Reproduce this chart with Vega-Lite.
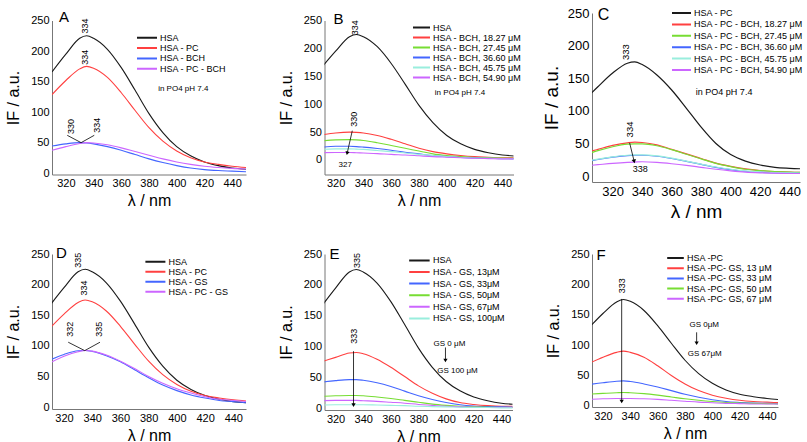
{
"$schema":"https://vega.github.io/schema/vega-lite/v6.json",
"background":"white",
"padding":{"left":5,"top":6,"right":5,"bottom":5},
"config":{
"view":{"stroke":null},
"font":"Liberation Sans",
"axis":{"grid":false,"ticks":false,"domainColor":"#777","domainWidth":1,"labelColor":"#000","titleColor":"#000","titleFontWeight":"normal","labelFont":"Liberation Sans","titleFont":"Liberation Sans","labelPadding":3,"labelOverlap":false},
"axisY":{"labelFontSize":11,"titleFontSize":16,"titlePadding":9},
"axisX":{"labelFontSize":11,"titleFontSize":16,"titlePadding":4,"labelFlush":false},
"legend":{"symbolType":"stroke","symbolStrokeWidth":2,"labelFont":"Liberation Sans","labelFontSize":9,"labelColor":"#000","padding":0,"offset":0,"labelOffset":2,"clipHeight":9,"symbolOffset":0,"labelLimit":300}
},
"datasets":{
"A":[
{"s":"HSA","l":310,"v":166},{"s":"HSA","l":320,"v":195},{"s":"HSA","l":330,"v":221},{"s":"HSA","l":335,"v":225},{"s":"HSA","l":340,"v":221},{"s":"HSA","l":350,"v":203},{"s":"HSA","l":360,"v":173},{"s":"HSA","l":370,"v":136},{"s":"HSA","l":380,"v":98},{"s":"HSA","l":390,"v":67},{"s":"HSA","l":400,"v":44},{"s":"HSA","l":410,"v":29},{"s":"HSA","l":420,"v":19},{"s":"HSA","l":430,"v":13},{"s":"HSA","l":440,"v":9},{"s":"HSA","l":450,"v":7},
{"s":"HSA - PC","l":310,"v":129},{"s":"HSA - PC","l":320,"v":152},{"s":"HSA - PC","l":330,"v":171},{"s":"HSA - PC","l":335,"v":175},{"s":"HSA - PC","l":340,"v":172},{"s":"HSA - PC","l":350,"v":157},{"s":"HSA - PC","l":360,"v":132},{"s":"HSA - PC","l":370,"v":103},{"s":"HSA - PC","l":380,"v":75},{"s":"HSA - PC","l":390,"v":53},{"s":"HSA - PC","l":400,"v":37},{"s":"HSA - PC","l":410,"v":26},{"s":"HSA - PC","l":420,"v":19},{"s":"HSA - PC","l":430,"v":15},{"s":"HSA - PC","l":440,"v":12},{"s":"HSA - PC","l":450,"v":10},
{"s":"HSA - BCH","l":310,"v":45},{"s":"HSA - BCH","l":320,"v":48.5},{"s":"HSA - BCH","l":330,"v":50.5},{"s":"HSA - BCH","l":335,"v":50},{"s":"HSA - BCH","l":340,"v":48.5},{"s":"HSA - BCH","l":350,"v":44},{"s":"HSA - BCH","l":360,"v":38},{"s":"HSA - BCH","l":370,"v":31},{"s":"HSA - BCH","l":380,"v":24},{"s":"HSA - BCH","l":390,"v":18},{"s":"HSA - BCH","l":400,"v":13},{"s":"HSA - BCH","l":410,"v":9},{"s":"HSA - BCH","l":420,"v":6.5},{"s":"HSA - BCH","l":430,"v":5},{"s":"HSA - BCH","l":440,"v":4},{"s":"HSA - BCH","l":450,"v":3},
{"s":"HSA - PC - BCH","l":310,"v":38},{"s":"HSA - PC - BCH","l":320,"v":44},{"s":"HSA - PC - BCH","l":330,"v":49},{"s":"HSA - PC - BCH","l":335,"v":50.5},{"s":"HSA - PC - BCH","l":340,"v":50},{"s":"HSA - PC - BCH","l":350,"v":47},{"s":"HSA - PC - BCH","l":360,"v":42},{"s":"HSA - PC - BCH","l":370,"v":36},{"s":"HSA - PC - BCH","l":380,"v":30},{"s":"HSA - PC - BCH","l":390,"v":24},{"s":"HSA - PC - BCH","l":400,"v":19},{"s":"HSA - PC - BCH","l":410,"v":15},{"s":"HSA - PC - BCH","l":420,"v":12},{"s":"HSA - PC - BCH","l":430,"v":10},{"s":"HSA - PC - BCH","l":440,"v":8.5},{"s":"HSA - PC - BCH","l":450,"v":7.5}
],
"An":[
{"k":"L","l":315,"v":248,"t":"A"},
{"k":"t","l":334,"v":241,"t":"334"},
{"k":"t","l":334,"v":190,"t":"334"},
{"k":"t","l":324,"v":77,"t":"330"},
{"k":"t","l":342.5,"v":79,"t":"334"},
{"k":"r","l":331,"v":50.5,"l2":321,"v2":62.5},
{"k":"r","l":331,"v":50.5,"l2":340.5,"v2":62.5},
{"k":"h","l":386.6,"v":138.6,"t":"in PO4 pH 7.4"}
],
"B":[
{"s":"HSA","l":310,"v":166},{"s":"HSA","l":320,"v":195},{"s":"HSA","l":330,"v":221},{"s":"HSA","l":335,"v":225},{"s":"HSA","l":340,"v":221},{"s":"HSA","l":350,"v":203},{"s":"HSA","l":360,"v":173},{"s":"HSA","l":370,"v":136},{"s":"HSA","l":380,"v":98},{"s":"HSA","l":390,"v":67},{"s":"HSA","l":400,"v":44},{"s":"HSA","l":410,"v":29},{"s":"HSA","l":420,"v":19},{"s":"HSA","l":430,"v":13},{"s":"HSA","l":440,"v":9},{"s":"HSA","l":450,"v":7},
{"s":"HSA - BCH, 18.27 μM","l":310,"v":45},{"s":"HSA - BCH, 18.27 μM","l":320,"v":48.5},{"s":"HSA - BCH, 18.27 μM","l":330,"v":50},{"s":"HSA - BCH, 18.27 μM","l":335,"v":49.5},{"s":"HSA - BCH, 18.27 μM","l":340,"v":48.5},{"s":"HSA - BCH, 18.27 μM","l":350,"v":44},{"s":"HSA - BCH, 18.27 μM","l":360,"v":37},{"s":"HSA - BCH, 18.27 μM","l":370,"v":29},{"s":"HSA - BCH, 18.27 μM","l":380,"v":21},{"s":"HSA - BCH, 18.27 μM","l":390,"v":15},{"s":"HSA - BCH, 18.27 μM","l":400,"v":11},{"s":"HSA - BCH, 18.27 μM","l":410,"v":8},{"s":"HSA - BCH, 18.27 μM","l":420,"v":6},{"s":"HSA - BCH, 18.27 μM","l":430,"v":5},{"s":"HSA - BCH, 18.27 μM","l":440,"v":4},{"s":"HSA - BCH, 18.27 μM","l":450,"v":4},
{"s":"HSA - BCH, 27.45 μM","l":310,"v":34},{"s":"HSA - BCH, 27.45 μM","l":320,"v":36},{"s":"HSA - BCH, 27.45 μM","l":330,"v":36.5},{"s":"HSA - BCH, 27.45 μM","l":335,"v":36},{"s":"HSA - BCH, 27.45 μM","l":340,"v":35},{"s":"HSA - BCH, 27.45 μM","l":350,"v":31},{"s":"HSA - BCH, 27.45 μM","l":360,"v":26},{"s":"HSA - BCH, 27.45 μM","l":370,"v":21},{"s":"HSA - BCH, 27.45 μM","l":380,"v":16},{"s":"HSA - BCH, 27.45 μM","l":390,"v":11},{"s":"HSA - BCH, 27.45 μM","l":400,"v":8},{"s":"HSA - BCH, 27.45 μM","l":410,"v":6},{"s":"HSA - BCH, 27.45 μM","l":420,"v":4.5},{"s":"HSA - BCH, 27.45 μM","l":430,"v":4},{"s":"HSA - BCH, 27.45 μM","l":440,"v":3.5},{"s":"HSA - BCH, 27.45 μM","l":450,"v":3},
{"s":"HSA - BCH, 36.60 μM","l":310,"v":23},{"s":"HSA - BCH, 36.60 μM","l":320,"v":24.5},{"s":"HSA - BCH, 36.60 μM","l":330,"v":24.5},{"s":"HSA - BCH, 36.60 μM","l":335,"v":24},{"s":"HSA - BCH, 36.60 μM","l":340,"v":23},{"s":"HSA - BCH, 36.60 μM","l":350,"v":20.5},{"s":"HSA - BCH, 36.60 μM","l":360,"v":17.5},{"s":"HSA - BCH, 36.60 μM","l":370,"v":14},{"s":"HSA - BCH, 36.60 μM","l":380,"v":11},{"s":"HSA - BCH, 36.60 μM","l":390,"v":8},{"s":"HSA - BCH, 36.60 μM","l":400,"v":6},{"s":"HSA - BCH, 36.60 μM","l":410,"v":4.5},{"s":"HSA - BCH, 36.60 μM","l":420,"v":3.5},{"s":"HSA - BCH, 36.60 μM","l":430,"v":3},{"s":"HSA - BCH, 36.60 μM","l":440,"v":2.5},{"s":"HSA - BCH, 36.60 μM","l":450,"v":2},
{"s":"HSA - BCH, 45.75 μM","l":310,"v":19},{"s":"HSA - BCH, 45.75 μM","l":320,"v":20},{"s":"HSA - BCH, 45.75 μM","l":330,"v":20},{"s":"HSA - BCH, 45.75 μM","l":335,"v":19.5},{"s":"HSA - BCH, 45.75 μM","l":340,"v":19},{"s":"HSA - BCH, 45.75 μM","l":350,"v":17},{"s":"HSA - BCH, 45.75 μM","l":360,"v":15},{"s":"HSA - BCH, 45.75 μM","l":370,"v":12.5},{"s":"HSA - BCH, 45.75 μM","l":380,"v":10},{"s":"HSA - BCH, 45.75 μM","l":390,"v":8},{"s":"HSA - BCH, 45.75 μM","l":400,"v":6},{"s":"HSA - BCH, 45.75 μM","l":410,"v":4.5},{"s":"HSA - BCH, 45.75 μM","l":420,"v":3.5},{"s":"HSA - BCH, 45.75 μM","l":430,"v":3},{"s":"HSA - BCH, 45.75 μM","l":440,"v":2.5},{"s":"HSA - BCH, 45.75 μM","l":450,"v":2},
{"s":"HSA - BCH, 54.90 μM","l":310,"v":13},{"s":"HSA - BCH, 54.90 μM","l":320,"v":13.5},{"s":"HSA - BCH, 54.90 μM","l":330,"v":13.5},{"s":"HSA - BCH, 54.90 μM","l":335,"v":13},{"s":"HSA - BCH, 54.90 μM","l":340,"v":12.5},{"s":"HSA - BCH, 54.90 μM","l":350,"v":11.5},{"s":"HSA - BCH, 54.90 μM","l":360,"v":10},{"s":"HSA - BCH, 54.90 μM","l":370,"v":9},{"s":"HSA - BCH, 54.90 μM","l":380,"v":7.5},{"s":"HSA - BCH, 54.90 μM","l":390,"v":6},{"s":"HSA - BCH, 54.90 μM","l":400,"v":5},{"s":"HSA - BCH, 54.90 μM","l":410,"v":4},{"s":"HSA - BCH, 54.90 μM","l":420,"v":3},{"s":"HSA - BCH, 54.90 μM","l":430,"v":2.5},{"s":"HSA - BCH, 54.90 μM","l":440,"v":2},{"s":"HSA - BCH, 54.90 μM","l":450,"v":2}
],
"Bn":[
{"k":"L","l":318.4,"v":244.6,"t":"B"},
{"k":"t","l":334,"v":237,"t":"334"},
{"k":"t","l":333,"v":73,"t":"330"},
{"k":"r","l":332,"v":52.5,"l2":328.3,"v2":12},
{"k":"p","l":328.3,"v":12},
{"k":"h","l":322.1,"v":-8.4,"t":"327"},
{"k":"h","l":391.4,"v":120,"t":"in PO4 pH 7.4"}
],
"C":[
{"s":"HSA - PC","l":305,"v":126},{"s":"HSA - PC","l":310,"v":137},{"s":"HSA - PC","l":320,"v":158},{"s":"HSA - PC","l":330,"v":173},{"s":"HSA - PC","l":335,"v":175},{"s":"HSA - PC","l":340,"v":171},{"s":"HSA - PC","l":350,"v":155},{"s":"HSA - PC","l":360,"v":132},{"s":"HSA - PC","l":370,"v":104},{"s":"HSA - PC","l":380,"v":75},{"s":"HSA - PC","l":390,"v":50},{"s":"HSA - PC","l":400,"v":33},{"s":"HSA - PC","l":410,"v":23},{"s":"HSA - PC","l":420,"v":17},{"s":"HSA - PC","l":430,"v":13.5},{"s":"HSA - PC","l":440,"v":12},{"s":"HSA - PC","l":450,"v":11},
{"s":"HSA - PC - BCH, 18.27 μM","l":305,"v":38},{"s":"HSA - PC - BCH, 18.27 μM","l":310,"v":41},{"s":"HSA - PC - BCH, 18.27 μM","l":320,"v":47},{"s":"HSA - PC - BCH, 18.27 μM","l":330,"v":51},{"s":"HSA - PC - BCH, 18.27 μM","l":335,"v":52},{"s":"HSA - PC - BCH, 18.27 μM","l":340,"v":51.5},{"s":"HSA - PC - BCH, 18.27 μM","l":350,"v":48},{"s":"HSA - PC - BCH, 18.27 μM","l":360,"v":41},{"s":"HSA - PC - BCH, 18.27 μM","l":370,"v":34},{"s":"HSA - PC - BCH, 18.27 μM","l":380,"v":27},{"s":"HSA - PC - BCH, 18.27 μM","l":390,"v":20},{"s":"HSA - PC - BCH, 18.27 μM","l":400,"v":15},{"s":"HSA - PC - BCH, 18.27 μM","l":410,"v":11},{"s":"HSA - PC - BCH, 18.27 μM","l":420,"v":8.5},{"s":"HSA - PC - BCH, 18.27 μM","l":430,"v":7},{"s":"HSA - PC - BCH, 18.27 μM","l":440,"v":6},{"s":"HSA - PC - BCH, 18.27 μM","l":450,"v":5.5},
{"s":"HSA - PC - BCH, 27.45 μM","l":305,"v":35.5},{"s":"HSA - PC - BCH, 27.45 μM","l":310,"v":39},{"s":"HSA - PC - BCH, 27.45 μM","l":320,"v":45},{"s":"HSA - PC - BCH, 27.45 μM","l":330,"v":49},{"s":"HSA - PC - BCH, 27.45 μM","l":335,"v":49.5},{"s":"HSA - PC - BCH, 27.45 μM","l":340,"v":49.5},{"s":"HSA - PC - BCH, 27.45 μM","l":350,"v":46.5},{"s":"HSA - PC - BCH, 27.45 μM","l":360,"v":40.5},{"s":"HSA - PC - BCH, 27.45 μM","l":370,"v":33.5},{"s":"HSA - PC - BCH, 27.45 μM","l":380,"v":26.5},{"s":"HSA - PC - BCH, 27.45 μM","l":390,"v":19.5},{"s":"HSA - PC - BCH, 27.45 μM","l":400,"v":14.5},{"s":"HSA - PC - BCH, 27.45 μM","l":410,"v":10.5},{"s":"HSA - PC - BCH, 27.45 μM","l":420,"v":8.5},{"s":"HSA - PC - BCH, 27.45 μM","l":430,"v":7},{"s":"HSA - PC - BCH, 27.45 μM","l":440,"v":6},{"s":"HSA - PC - BCH, 27.45 μM","l":450,"v":5.5},
{"s":"HSA - PC - BCH, 36.60 μM","l":305,"v":23.5},{"s":"HSA - PC - BCH, 36.60 μM","l":310,"v":25.5},{"s":"HSA - PC - BCH, 36.60 μM","l":320,"v":29},{"s":"HSA - PC - BCH, 36.60 μM","l":330,"v":31.5},{"s":"HSA - PC - BCH, 36.60 μM","l":335,"v":32},{"s":"HSA - PC - BCH, 36.60 μM","l":340,"v":32},{"s":"HSA - PC - BCH, 36.60 μM","l":350,"v":30.5},{"s":"HSA - PC - BCH, 36.60 μM","l":360,"v":27},{"s":"HSA - PC - BCH, 36.60 μM","l":370,"v":22.5},{"s":"HSA - PC - BCH, 36.60 μM","l":380,"v":18},{"s":"HSA - PC - BCH, 36.60 μM","l":390,"v":13.5},{"s":"HSA - PC - BCH, 36.60 μM","l":400,"v":10},{"s":"HSA - PC - BCH, 36.60 μM","l":410,"v":7.5},{"s":"HSA - PC - BCH, 36.60 μM","l":420,"v":6},{"s":"HSA - PC - BCH, 36.60 μM","l":430,"v":5},{"s":"HSA - PC - BCH, 36.60 μM","l":440,"v":4.5},{"s":"HSA - PC - BCH, 36.60 μM","l":450,"v":4},
{"s":"HSA - PC - BCH, 45.75 μM","l":305,"v":24},{"s":"HSA - PC - BCH, 45.75 μM","l":310,"v":26},{"s":"HSA - PC - BCH, 45.75 μM","l":320,"v":29.5},{"s":"HSA - PC - BCH, 45.75 μM","l":330,"v":32},{"s":"HSA - PC - BCH, 45.75 μM","l":335,"v":32.5},{"s":"HSA - PC - BCH, 45.75 μM","l":340,"v":32.5},{"s":"HSA - PC - BCH, 45.75 μM","l":350,"v":31},{"s":"HSA - PC - BCH, 45.75 μM","l":360,"v":27.5},{"s":"HSA - PC - BCH, 45.75 μM","l":370,"v":23},{"s":"HSA - PC - BCH, 45.75 μM","l":380,"v":18.5},{"s":"HSA - PC - BCH, 45.75 μM","l":390,"v":14},{"s":"HSA - PC - BCH, 45.75 μM","l":400,"v":10.5},{"s":"HSA - PC - BCH, 45.75 μM","l":410,"v":8},{"s":"HSA - PC - BCH, 45.75 μM","l":420,"v":6.5},{"s":"HSA - PC - BCH, 45.75 μM","l":430,"v":5.5},{"s":"HSA - PC - BCH, 45.75 μM","l":440,"v":5},{"s":"HSA - PC - BCH, 45.75 μM","l":450,"v":4.5},
{"s":"HSA - PC - BCH, 54.90 μM","l":305,"v":16.5},{"s":"HSA - PC - BCH, 54.90 μM","l":310,"v":17.5},{"s":"HSA - PC - BCH, 54.90 μM","l":320,"v":19.5},{"s":"HSA - PC - BCH, 54.90 μM","l":330,"v":21},{"s":"HSA - PC - BCH, 54.90 μM","l":335,"v":21.5},{"s":"HSA - PC - BCH, 54.90 μM","l":340,"v":22},{"s":"HSA - PC - BCH, 54.90 μM","l":350,"v":21},{"s":"HSA - PC - BCH, 54.90 μM","l":360,"v":19},{"s":"HSA - PC - BCH, 54.90 μM","l":370,"v":16.5},{"s":"HSA - PC - BCH, 54.90 μM","l":380,"v":13.5},{"s":"HSA - PC - BCH, 54.90 μM","l":390,"v":10.5},{"s":"HSA - PC - BCH, 54.90 μM","l":400,"v":8},{"s":"HSA - PC - BCH, 54.90 μM","l":410,"v":6},{"s":"HSA - PC - BCH, 54.90 μM","l":420,"v":5},{"s":"HSA - PC - BCH, 54.90 μM","l":430,"v":4.5},{"s":"HSA - PC - BCH, 54.90 μM","l":440,"v":4},{"s":"HSA - PC - BCH, 54.90 μM","l":450,"v":4}
],
"Cn":[
{"k":"L","l":309.9,"v":239.7,"t":"C"},
{"k":"t","l":329.2,"v":190,"t":"333"},
{"k":"t","l":331.5,"v":71.5,"t":"334"},
{"k":"r","l":331.5,"v":51,"l2":334.6,"v2":22.5},
{"k":"p","l":334.6,"v":22.5},
{"k":"h","l":333.6,"v":10.3,"t":"338"},
{"k":"h","l":376.4,"v":129.1,"t":"in PO4 pH 7.4"}
],
"D":[
{"s":"HSA","l":310,"v":166},{"s":"HSA","l":320,"v":195},{"s":"HSA","l":330,"v":221},{"s":"HSA","l":335,"v":225},{"s":"HSA","l":340,"v":221},{"s":"HSA","l":350,"v":203},{"s":"HSA","l":360,"v":173},{"s":"HSA","l":370,"v":136},{"s":"HSA","l":380,"v":98},{"s":"HSA","l":390,"v":67},{"s":"HSA","l":400,"v":44},{"s":"HSA","l":410,"v":29},{"s":"HSA","l":420,"v":19},{"s":"HSA","l":430,"v":13},{"s":"HSA","l":440,"v":9},{"s":"HSA","l":450,"v":7},
{"s":"HSA - PC","l":310,"v":129},{"s":"HSA - PC","l":320,"v":152},{"s":"HSA - PC","l":330,"v":171},{"s":"HSA - PC","l":335,"v":175},{"s":"HSA - PC","l":340,"v":172},{"s":"HSA - PC","l":350,"v":157},{"s":"HSA - PC","l":360,"v":132},{"s":"HSA - PC","l":370,"v":103},{"s":"HSA - PC","l":380,"v":75},{"s":"HSA - PC","l":390,"v":53},{"s":"HSA - PC","l":400,"v":37},{"s":"HSA - PC","l":410,"v":26},{"s":"HSA - PC","l":420,"v":19},{"s":"HSA - PC","l":430,"v":15},{"s":"HSA - PC","l":440,"v":12},{"s":"HSA - PC","l":450,"v":10},
{"s":"HSA - GS","l":310,"v":77},{"s":"HSA - GS","l":320,"v":86},{"s":"HSA - GS","l":330,"v":92},{"s":"HSA - GS","l":335,"v":92.5},{"s":"HSA - GS","l":340,"v":91},{"s":"HSA - GS","l":350,"v":84},{"s":"HSA - GS","l":360,"v":74},{"s":"HSA - GS","l":370,"v":61},{"s":"HSA - GS","l":380,"v":48},{"s":"HSA - GS","l":390,"v":36},{"s":"HSA - GS","l":400,"v":27},{"s":"HSA - GS","l":410,"v":20},{"s":"HSA - GS","l":420,"v":15},{"s":"HSA - GS","l":430,"v":11},{"s":"HSA - GS","l":440,"v":9},{"s":"HSA - GS","l":450,"v":7},
{"s":"HSA - PC - GS","l":310,"v":72},{"s":"HSA - PC - GS","l":320,"v":83},{"s":"HSA - PC - GS","l":330,"v":90.5},{"s":"HSA - PC - GS","l":335,"v":92.5},{"s":"HSA - PC - GS","l":340,"v":91.5},{"s":"HSA - PC - GS","l":350,"v":85},{"s":"HSA - PC - GS","l":360,"v":75},{"s":"HSA - PC - GS","l":370,"v":63},{"s":"HSA - PC - GS","l":380,"v":50},{"s":"HSA - PC - GS","l":390,"v":39},{"s":"HSA - PC - GS","l":400,"v":30},{"s":"HSA - PC - GS","l":410,"v":23},{"s":"HSA - PC - GS","l":420,"v":17},{"s":"HSA - PC - GS","l":430,"v":13},{"s":"HSA - PC - GS","l":440,"v":11},{"s":"HSA - PC - GS","l":450,"v":9}
],
"Dn":[
{"k":"L","l":314.4,"v":243,"t":"D"},
{"k":"t","l":330,"v":240,"t":"335"},
{"k":"t","l":334,"v":194.5,"t":"334"},
{"k":"t","l":324.6,"v":127,"t":"332"},
{"k":"t","l":344.8,"v":127,"t":"335"},
{"k":"r","l":334.7,"v":92.3,"l2":323,"v2":106},
{"k":"r","l":334.7,"v":92.3,"l2":345.5,"v2":106}
],
"E":[
{"s":"HSA","l":310,"v":166},{"s":"HSA","l":320,"v":195},{"s":"HSA","l":330,"v":221},{"s":"HSA","l":335,"v":225},{"s":"HSA","l":340,"v":221},{"s":"HSA","l":350,"v":203},{"s":"HSA","l":360,"v":173},{"s":"HSA","l":370,"v":136},{"s":"HSA","l":380,"v":98},{"s":"HSA","l":390,"v":67},{"s":"HSA","l":400,"v":44},{"s":"HSA","l":410,"v":29},{"s":"HSA","l":420,"v":19},{"s":"HSA","l":430,"v":13},{"s":"HSA","l":440,"v":9},{"s":"HSA","l":450,"v":7},
{"s":"HSA - GS, 13μM","l":310,"v":76},{"s":"HSA - GS, 13μM","l":320,"v":83},{"s":"HSA - GS, 13μM","l":330,"v":90},{"s":"HSA - GS, 13μM","l":335,"v":91},{"s":"HSA - GS, 13μM","l":340,"v":89},{"s":"HSA - GS, 13μM","l":350,"v":80},{"s":"HSA - GS, 13μM","l":360,"v":67},{"s":"HSA - GS, 13μM","l":370,"v":52},{"s":"HSA - GS, 13μM","l":380,"v":37},{"s":"HSA - GS, 13μM","l":390,"v":25},{"s":"HSA - GS, 13μM","l":400,"v":16},{"s":"HSA - GS, 13μM","l":410,"v":10},{"s":"HSA - GS, 13μM","l":420,"v":7},{"s":"HSA - GS, 13μM","l":430,"v":5},{"s":"HSA - GS, 13μM","l":440,"v":4},{"s":"HSA - GS, 13μM","l":450,"v":4},
{"s":"HSA - GS, 33μM","l":310,"v":43},{"s":"HSA - GS, 33μM","l":320,"v":45.5},{"s":"HSA - GS, 33μM","l":330,"v":47},{"s":"HSA - GS, 33μM","l":335,"v":47},{"s":"HSA - GS, 33μM","l":340,"v":46},{"s":"HSA - GS, 33μM","l":350,"v":42},{"s":"HSA - GS, 33μM","l":360,"v":36},{"s":"HSA - GS, 33μM","l":370,"v":28.5},{"s":"HSA - GS, 33μM","l":380,"v":21},{"s":"HSA - GS, 33μM","l":390,"v":15},{"s":"HSA - GS, 33μM","l":400,"v":10},{"s":"HSA - GS, 33μM","l":410,"v":6.5},{"s":"HSA - GS, 33μM","l":420,"v":4.5},{"s":"HSA - GS, 33μM","l":430,"v":3.5},{"s":"HSA - GS, 33μM","l":440,"v":3},{"s":"HSA - GS, 33μM","l":450,"v":2.5},
{"s":"HSA - GS, 50μM","l":310,"v":20},{"s":"HSA - GS, 50μM","l":320,"v":21},{"s":"HSA - GS, 50μM","l":330,"v":21.5},{"s":"HSA - GS, 50μM","l":335,"v":21.5},{"s":"HSA - GS, 50μM","l":340,"v":21},{"s":"HSA - GS, 50μM","l":350,"v":19},{"s":"HSA - GS, 50μM","l":360,"v":16.5},{"s":"HSA - GS, 50μM","l":370,"v":13.5},{"s":"HSA - GS, 50μM","l":380,"v":10.5},{"s":"HSA - GS, 50μM","l":390,"v":7.5},{"s":"HSA - GS, 50μM","l":400,"v":5.5},{"s":"HSA - GS, 50μM","l":410,"v":4},{"s":"HSA - GS, 50μM","l":420,"v":3},{"s":"HSA - GS, 50μM","l":430,"v":2.5},{"s":"HSA - GS, 50μM","l":440,"v":2},{"s":"HSA - GS, 50μM","l":450,"v":2},
{"s":"HSA - GS, 67μM","l":310,"v":13},{"s":"HSA - GS, 67μM","l":320,"v":13.5},{"s":"HSA - GS, 67μM","l":330,"v":13.5},{"s":"HSA - GS, 67μM","l":335,"v":13.5},{"s":"HSA - GS, 67μM","l":340,"v":13},{"s":"HSA - GS, 67μM","l":350,"v":12},{"s":"HSA - GS, 67μM","l":360,"v":10.5},{"s":"HSA - GS, 67μM","l":370,"v":9},{"s":"HSA - GS, 67μM","l":380,"v":7},{"s":"HSA - GS, 67μM","l":390,"v":5.5},{"s":"HSA - GS, 67μM","l":400,"v":4},{"s":"HSA - GS, 67μM","l":410,"v":3},{"s":"HSA - GS, 67μM","l":420,"v":2.5},{"s":"HSA - GS, 67μM","l":430,"v":2},{"s":"HSA - GS, 67μM","l":440,"v":2},{"s":"HSA - GS, 67μM","l":450,"v":2},
{"s":"HSA - GS, 100μM","l":310,"v":6},{"s":"HSA - GS, 100μM","l":320,"v":6.5},{"s":"HSA - GS, 100μM","l":330,"v":6.5},{"s":"HSA - GS, 100μM","l":335,"v":6.5},{"s":"HSA - GS, 100μM","l":340,"v":6.5},{"s":"HSA - GS, 100μM","l":350,"v":6},{"s":"HSA - GS, 100μM","l":360,"v":5.5},{"s":"HSA - GS, 100μM","l":370,"v":5},{"s":"HSA - GS, 100μM","l":380,"v":4},{"s":"HSA - GS, 100μM","l":390,"v":3.5},{"s":"HSA - GS, 100μM","l":400,"v":3},{"s":"HSA - GS, 100μM","l":410,"v":2.5},{"s":"HSA - GS, 100μM","l":420,"v":2},{"s":"HSA - GS, 100μM","l":430,"v":2},{"s":"HSA - GS, 100μM","l":440,"v":1.5},{"s":"HSA - GS, 100μM","l":450,"v":1.5}
],
"En":[
{"k":"L","l":315.6,"v":242.4,"t":"E"},
{"k":"t","l":335.3,"v":239.5,"t":"335"},
{"k":"t","l":333,"v":117,"t":"333"},
{"k":"r","l":333,"v":93,"l2":333,"v2":6},
{"k":"p","l":333,"v":6},
{"k":"r","l":399.5,"v":99,"l2":399.5,"v2":78},
{"k":"p","l":399.5,"v":78},
{"k":"h","l":390.9,"v":105,"t":"GS 0 μM"},
{"k":"h","l":393.5,"v":60.6,"t":"GS 100 μM"}
],
"F":[
{"s":"HSA -PC","l":310,"v":129},{"s":"HSA -PC","l":320,"v":152},{"s":"HSA -PC","l":330,"v":171},{"s":"HSA -PC","l":335,"v":175},{"s":"HSA -PC","l":340,"v":172},{"s":"HSA -PC","l":350,"v":157},{"s":"HSA -PC","l":360,"v":132},{"s":"HSA -PC","l":370,"v":103},{"s":"HSA -PC","l":380,"v":75},{"s":"HSA -PC","l":390,"v":53},{"s":"HSA -PC","l":400,"v":37},{"s":"HSA -PC","l":410,"v":26},{"s":"HSA -PC","l":420,"v":19},{"s":"HSA -PC","l":430,"v":15},{"s":"HSA -PC","l":440,"v":12},{"s":"HSA -PC","l":450,"v":10},
{"s":"HSA -PC- GS, 13 μM","l":310,"v":70},{"s":"HSA -PC- GS, 13 μM","l":320,"v":80},{"s":"HSA -PC- GS, 13 μM","l":330,"v":88},{"s":"HSA -PC- GS, 13 μM","l":335,"v":90},{"s":"HSA -PC- GS, 13 μM","l":340,"v":88},{"s":"HSA -PC- GS, 13 μM","l":350,"v":80},{"s":"HSA -PC- GS, 13 μM","l":360,"v":66},{"s":"HSA -PC- GS, 13 μM","l":370,"v":50},{"s":"HSA -PC- GS, 13 μM","l":380,"v":36},{"s":"HSA -PC- GS, 13 μM","l":390,"v":25},{"s":"HSA -PC- GS, 13 μM","l":400,"v":17.5},{"s":"HSA -PC- GS, 13 μM","l":410,"v":12.5},{"s":"HSA -PC- GS, 13 μM","l":420,"v":9},{"s":"HSA -PC- GS, 13 μM","l":430,"v":7},{"s":"HSA -PC- GS, 13 μM","l":440,"v":6},{"s":"HSA -PC- GS, 13 μM","l":450,"v":5},
{"s":"HSA -PC- GS, 33 μM","l":310,"v":35},{"s":"HSA -PC- GS, 33 μM","l":320,"v":38},{"s":"HSA -PC- GS, 33 μM","l":330,"v":40.5},{"s":"HSA -PC- GS, 33 μM","l":335,"v":41},{"s":"HSA -PC- GS, 33 μM","l":340,"v":40},{"s":"HSA -PC- GS, 33 μM","l":350,"v":36},{"s":"HSA -PC- GS, 33 μM","l":360,"v":31},{"s":"HSA -PC- GS, 33 μM","l":370,"v":25},{"s":"HSA -PC- GS, 33 μM","l":380,"v":19},{"s":"HSA -PC- GS, 33 μM","l":390,"v":14},{"s":"HSA -PC- GS, 33 μM","l":400,"v":10},{"s":"HSA -PC- GS, 33 μM","l":410,"v":7},{"s":"HSA -PC- GS, 33 μM","l":420,"v":5.5},{"s":"HSA -PC- GS, 33 μM","l":430,"v":4.5},{"s":"HSA -PC- GS, 33 μM","l":440,"v":4},{"s":"HSA -PC- GS, 33 μM","l":450,"v":3.5},
{"s":"HSA -PC- GS, 50 μM","l":310,"v":19},{"s":"HSA -PC- GS, 50 μM","l":320,"v":20.5},{"s":"HSA -PC- GS, 50 μM","l":330,"v":21.5},{"s":"HSA -PC- GS, 50 μM","l":335,"v":22},{"s":"HSA -PC- GS, 50 μM","l":340,"v":21.5},{"s":"HSA -PC- GS, 50 μM","l":350,"v":20},{"s":"HSA -PC- GS, 50 μM","l":360,"v":17.5},{"s":"HSA -PC- GS, 50 μM","l":370,"v":14.5},{"s":"HSA -PC- GS, 50 μM","l":380,"v":11.5},{"s":"HSA -PC- GS, 50 μM","l":390,"v":9},{"s":"HSA -PC- GS, 50 μM","l":400,"v":7},{"s":"HSA -PC- GS, 50 μM","l":410,"v":5.5},{"s":"HSA -PC- GS, 50 μM","l":420,"v":4.5},{"s":"HSA -PC- GS, 50 μM","l":430,"v":4},{"s":"HSA -PC- GS, 50 μM","l":440,"v":3.5},{"s":"HSA -PC- GS, 50 μM","l":450,"v":3},
{"s":"HSA -PC- GS, 67 μM","l":310,"v":10.5},{"s":"HSA -PC- GS, 67 μM","l":320,"v":11.5},{"s":"HSA -PC- GS, 67 μM","l":330,"v":12},{"s":"HSA -PC- GS, 67 μM","l":335,"v":12},{"s":"HSA -PC- GS, 67 μM","l":340,"v":12},{"s":"HSA -PC- GS, 67 μM","l":350,"v":11.5},{"s":"HSA -PC- GS, 67 μM","l":360,"v":10.5},{"s":"HSA -PC- GS, 67 μM","l":370,"v":9},{"s":"HSA -PC- GS, 67 μM","l":380,"v":7.5},{"s":"HSA -PC- GS, 67 μM","l":390,"v":6},{"s":"HSA -PC- GS, 67 μM","l":400,"v":5},{"s":"HSA -PC- GS, 67 μM","l":410,"v":4},{"s":"HSA -PC- GS, 67 μM","l":420,"v":3.5},{"s":"HSA -PC- GS, 67 μM","l":430,"v":3},{"s":"HSA -PC- GS, 67 μM","l":440,"v":3},{"s":"HSA -PC- GS, 67 μM","l":450,"v":3}
],
"Fn":[
{"k":"L","l":315.3,"v":240,"t":"F"},
{"k":"t","l":333.7,"v":197.7,"t":"333"},
{"k":"r","l":333.7,"v":176,"l2":333.7,"v2":7},
{"k":"p","l":333.7,"v":7},
{"k":"r","l":388.5,"v":121,"l2":388.5,"v2":103},
{"k":"p","l":388.5,"v":103},
{"k":"h","l":383.3,"v":133.4,"t":"GS 0μM"},
{"k":"h","l":382,"v":86,"t":"GS 67μM"}
]
},
"concat":[
{"width":194,"height":154,
"encoding":{"x":{"field":"l","type":"quantitative","scale":{"domain":[310,450],"nice":false,"zero":false},"axis":{"values":[320,340,360,380,400,420,440],"title":"λ / nm"}},
"y":{"field":"v","type":"quantitative","scale":{"domain":[-1.5,250],"nice":false,"zero":false},"axis":{"values":[0,50,100,150,200,250],"title":"IF / a.u."}}},
"layer":[
{"data":{"name":"A"},"mark":{"type":"line","clip":true,"strokeWidth":1.1,"interpolate":"monotone"},"encoding":{"color":{"field":"s","type":"nominal","scale":{"domain":["HSA","HSA - PC","HSA - BCH","HSA - PC - BCH"],"range":["#1a1a1a","#ff4040","#4466ff","#cc66ff"]},"legend":{"orient":"none","title":null,"legendX":84,"legendY":12.8,"symbolSize":400,"rowPadding":0.3}}}},
{"data":{"name":"An"},"transform":[{"filter":"datum.k=='r'"}],"mark":{"type":"rule","color":"#000","strokeWidth":0.8},"encoding":{"x2":{"field":"l2"},"y2":{"field":"v2"}}},
{"data":{"name":"An"},"transform":[{"filter":"datum.k=='t'"}],"mark":{"type":"text","angle":270,"fontSize":9,"color":"#000"},"encoding":{"text":{"field":"t"}}},
{"data":{"name":"An"},"transform":[{"filter":"datum.k=='h'"}],"mark":{"type":"text","align":"left","baseline":"middle","fontSize":8,"color":"#000"},"encoding":{"text":{"field":"t"}}},
{"data":{"name":"An"},"transform":[{"filter":"datum.k=='L'"}],"mark":{"type":"text","align":"left","baseline":"alphabetic","fontSize":15,"color":"#000"},"encoding":{"text":{"field":"t"}}}
]},
{"width":189,"height":154,
"encoding":{"x":{"field":"l","type":"quantitative","scale":{"domain":[312,448],"nice":false,"zero":false},"axis":{"values":[320,340,360,380,400,420,440],"title":"λ / nm"}},
"y":{"field":"v","type":"quantitative","scale":{"domain":[-26,250],"nice":false,"zero":false},"axis":{"values":[0,50,100,150,200,250],"title":"IF / a.u."}}},
"layer":[
{"data":{"name":"B"},"mark":{"type":"line","clip":true,"strokeWidth":1.1,"interpolate":"monotone"},"encoding":{"color":{"field":"s","type":"nominal","scale":{"domain":["HSA","HSA - BCH, 18.27 μM","HSA - BCH, 27.45 μM","HSA - BCH, 36.60 μM","HSA - BCH, 45.75 μM","HSA - BCH, 54.90 μM"],"range":["#1a1a1a","#ff4040","#77dd33","#4466ff","#99eedd","#cc66ff"]},"legend":{"orient":"none","title":null,"legendX":87.5,"legendY":2.5,"symbolSize":289,"rowPadding":0}}}},
{"data":{"name":"Bn"},"transform":[{"filter":"datum.k=='r'"}],"mark":{"type":"rule","color":"#000","strokeWidth":0.8},"encoding":{"x2":{"field":"l2"},"y2":{"field":"v2"}}},
{"data":{"name":"Bn"},"transform":[{"filter":"datum.k=='p'"}],"mark":{"type":"point","shape":"triangle-down","filled":true,"color":"#000","opacity":1,"size":18,"angle":13}},
{"data":{"name":"Bn"},"transform":[{"filter":"datum.k=='t'"}],"mark":{"type":"text","angle":270,"fontSize":9,"color":"#000"},"encoding":{"text":{"field":"t"}}},
{"data":{"name":"Bn"},"transform":[{"filter":"datum.k=='h'"}],"mark":{"type":"text","align":"left","baseline":"middle","fontSize":8,"color":"#000"},"encoding":{"text":{"field":"t"}}},
{"data":{"name":"Bn"},"transform":[{"filter":"datum.k=='L'"}],"mark":{"type":"text","align":"left","baseline":"alphabetic","fontSize":15,"color":"#000"},"encoding":{"text":{"field":"t"}}}
]},
{"width":208,"height":169,
"encoding":{"x":{"field":"l","type":"quantitative","scale":{"domain":[306,447],"nice":false,"zero":false},"axis":{"values":[320,340,360,380,400,420,440],"title":"λ / nm","labelFontSize":13,"titleFontSize":19}},
"y":{"field":"v","type":"quantitative","scale":{"domain":[-9,250],"nice":false,"zero":false},"axis":{"values":[0,50,100,150,200,250],"title":"IF / a.u.","labelFontSize":13,"titleFontSize":19,"titlePadding":6}}},
"layer":[
{"data":{"name":"C"},"mark":{"type":"line","clip":true,"strokeWidth":1.2,"interpolate":"monotone"},"encoding":{"color":{"field":"s","type":"nominal","scale":{"domain":["HSA - PC","HSA - PC - BCH, 18.27 μM","HSA - PC - BCH, 27.45 μM","HSA - PC - BCH, 36.60 μM","HSA - PC - BCH, 45.75 μM","HSA - PC - BCH, 54.90 μM"],"range":["#1a1a1a","#ff4040","#77dd33","#4466ff","#99eedd","#cc66ff"]},"legend":{"orient":"none","title":null,"legendX":79,"legendY":-5,"symbolSize":361,"rowPadding":1.4,"clipHeight":10,"labelFontSize":9}}}},
{"data":{"name":"Cn"},"transform":[{"filter":"datum.k=='r'"}],"mark":{"type":"rule","color":"#000","strokeWidth":0.8},"encoding":{"x2":{"field":"l2"},"y2":{"field":"v2"}}},
{"data":{"name":"Cn"},"transform":[{"filter":"datum.k=='p'"}],"mark":{"type":"point","shape":"triangle-down","filled":true,"color":"#000","opacity":1,"size":20,"angle":-14}},
{"data":{"name":"Cn"},"transform":[{"filter":"datum.k=='t'"}],"mark":{"type":"text","angle":270,"fontSize":9.5,"color":"#000"},"encoding":{"text":{"field":"t"}}},
{"data":{"name":"Cn"},"transform":[{"filter":"datum.k=='h'"}],"mark":{"type":"text","align":"left","baseline":"middle","fontSize":9,"color":"#000"},"encoding":{"text":{"field":"t"}}},
{"data":{"name":"Cn"},"transform":[{"filter":"datum.k=='L'"}],"mark":{"type":"text","align":"left","baseline":"alphabetic","fontSize":16,"color":"#000"},"encoding":{"text":{"field":"t"}}}
]},
{"width":194,"height":155,
"encoding":{"x":{"field":"l","type":"quantitative","scale":{"domain":[311.5,449],"nice":false,"zero":false},"axis":{"values":[320,340,360,380,400,420,440],"title":"λ / nm"}},
"y":{"field":"v","type":"quantitative","scale":{"domain":[-3,250],"nice":false,"zero":false},"axis":{"values":[0,50,100,150,200,250],"title":"IF / a.u."}}},
"layer":[
{"data":{"name":"D"},"mark":{"type":"line","clip":true,"strokeWidth":1.1,"interpolate":"monotone"},"encoding":{"color":{"field":"s","type":"nominal","scale":{"domain":["HSA","HSA - PC","HSA - GS","HSA - PC - GS"],"range":["#1a1a1a","#ff4040","#4466ff","#cc66ff"]},"legend":{"orient":"none","title":null,"legendX":92.4,"legendY":3.2,"symbolSize":400,"rowPadding":-0.3}}}},
{"data":{"name":"Dn"},"transform":[{"filter":"datum.k=='r'"}],"mark":{"type":"rule","color":"#000","strokeWidth":0.8},"encoding":{"x2":{"field":"l2"},"y2":{"field":"v2"}}},
{"data":{"name":"Dn"},"transform":[{"filter":"datum.k=='t'"}],"mark":{"type":"text","angle":270,"fontSize":9,"color":"#000"},"encoding":{"text":{"field":"t"}}},
{"data":{"name":"Dn"},"transform":[{"filter":"datum.k=='L'"}],"mark":{"type":"text","align":"left","baseline":"alphabetic","fontSize":15,"color":"#000"},"encoding":{"text":{"field":"t"}}}
]},
{"width":188,"height":156,
"encoding":{"x":{"field":"l","type":"quantitative","scale":{"domain":[312,448],"nice":false,"zero":false},"axis":{"values":[320,340,360,380,400,420,440],"title":"λ / nm"}},
"y":{"field":"v","type":"quantitative","scale":{"domain":[-2,250],"nice":false,"zero":false},"axis":{"values":[0,50,100,150,200,250],"title":"IF / a.u."}}},
"layer":[
{"data":{"name":"E"},"mark":{"type":"line","clip":true,"strokeWidth":1.1,"interpolate":"monotone"},"encoding":{"color":{"field":"s","type":"nominal","scale":{"domain":["HSA","HSA - GS, 13μM","HSA - GS, 33μM","HSA - GS, 50μM","HSA - GS, 67μM","HSA - GS, 100μM"],"range":["#1a1a1a","#ff4040","#4466ff","#77dd33","#cc66ff","#99eedd"]},"legend":{"orient":"none","title":null,"legendX":83.4,"legendY":1.9,"symbolSize":420,"rowPadding":1.6}}}},
{"data":{"name":"En"},"transform":[{"filter":"datum.k=='r'"}],"mark":{"type":"rule","color":"#000","strokeWidth":0.8},"encoding":{"x2":{"field":"l2"},"y2":{"field":"v2"}}},
{"data":{"name":"En"},"transform":[{"filter":"datum.k=='p'"}],"mark":{"type":"point","shape":"triangle-down","filled":true,"color":"#000","opacity":1,"size":18}},
{"data":{"name":"En"},"transform":[{"filter":"datum.k=='t'"}],"mark":{"type":"text","angle":270,"fontSize":9,"color":"#000"},"encoding":{"text":{"field":"t"}}},
{"data":{"name":"En"},"transform":[{"filter":"datum.k=='h'"}],"mark":{"type":"text","align":"left","baseline":"middle","fontSize":8,"color":"#000"},"encoding":{"text":{"field":"t"}}},
{"data":{"name":"En"},"transform":[{"filter":"datum.k=='L'"}],"mark":{"type":"text","align":"left","baseline":"alphabetic","fontSize":15,"color":"#000"},"encoding":{"text":{"field":"t"}}}
]},
{"width":186,"height":153,
"encoding":{"x":{"field":"l","type":"quantitative","scale":{"domain":[312,448],"nice":false,"zero":false},"axis":{"values":[320,340,360,380,400,420,440],"title":"λ / nm"}},
"y":{"field":"v","type":"quantitative","scale":{"domain":[-2,250],"nice":false,"zero":false},"axis":{"values":[0,50,100,150,200,250],"title":"IF / a.u."}}},
"layer":[
{"data":{"name":"F"},"mark":{"type":"line","clip":true,"strokeWidth":1.1,"interpolate":"monotone"},"encoding":{"color":{"field":"s","type":"nominal","scale":{"domain":["HSA -PC","HSA -PC- GS, 13 μM","HSA -PC- GS, 33 μM","HSA -PC- GS, 50 μM","HSA -PC- GS, 67 μM"],"range":["#1a1a1a","#ff4040","#4466ff","#77dd33","#cc66ff"]},"legend":{"orient":"none","title":null,"legendX":74,"legendY":-0.5,"symbolSize":276,"rowPadding":0.2}}}},
{"data":{"name":"Fn"},"transform":[{"filter":"datum.k=='r'"}],"mark":{"type":"rule","color":"#000","strokeWidth":0.8},"encoding":{"x2":{"field":"l2"},"y2":{"field":"v2"}}},
{"data":{"name":"Fn"},"transform":[{"filter":"datum.k=='p'"}],"mark":{"type":"point","shape":"triangle-down","filled":true,"color":"#000","opacity":1,"size":18}},
{"data":{"name":"Fn"},"transform":[{"filter":"datum.k=='t'"}],"mark":{"type":"text","angle":270,"fontSize":9,"color":"#000"},"encoding":{"text":{"field":"t"}}},
{"data":{"name":"Fn"},"transform":[{"filter":"datum.k=='h'"}],"mark":{"type":"text","align":"left","baseline":"middle","fontSize":8,"color":"#000"},"encoding":{"text":{"field":"t"}}},
{"data":{"name":"Fn"},"transform":[{"filter":"datum.k=='L'"}],"mark":{"type":"text","align":"left","baseline":"alphabetic","fontSize":15,"color":"#000"},"encoding":{"text":{"field":"t"}}}
]}
],
"columns":3,
"spacing":{"row":72,"column":78.5},
"bounds":"flush",
"align":"each",
"center":{"row":true,"column":false},
"resolve":{"scale":{"color":"independent","x":"independent","y":"independent"},"legend":{"color":"independent"}}
}
